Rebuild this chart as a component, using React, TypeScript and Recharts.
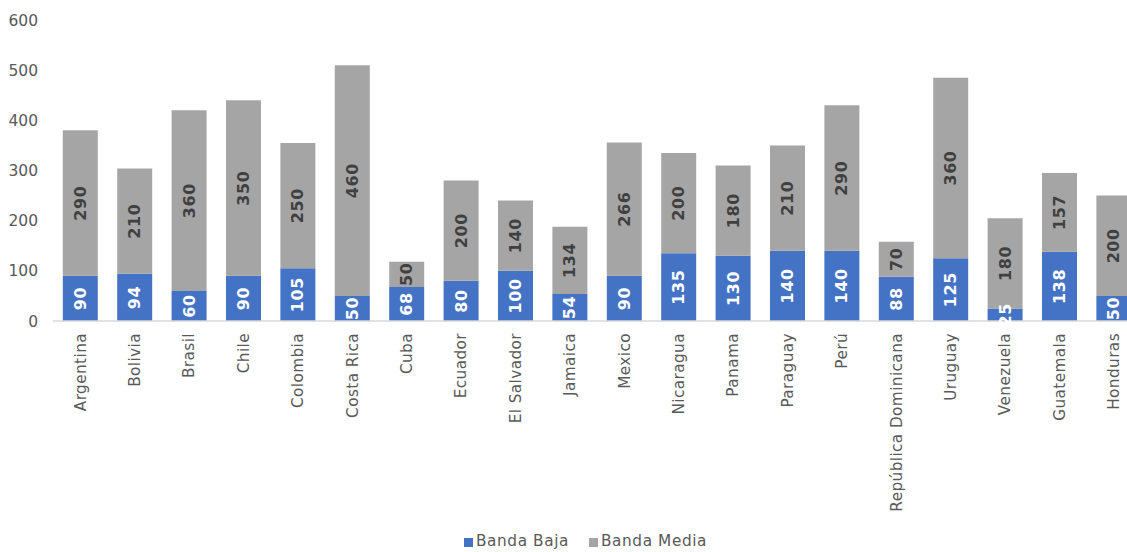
import React from "react";
import { BarChart, Bar, XAxis, YAxis, Legend, LabelList } from "recharts";

const countries = [
  "Argentina", "Bolivia", "Brasil", "Chile", "Colombia", "Costa Rica", "Cuba",
  "Ecuador", "El Salvador", "Jamaica", "Mexico", "Nicaragua", "Panama",
  "Paraguay", "Perú", "República Dominicana", "Uruguay", "Venezuela",
  "Guatemala", "Honduras",
];
const bandaBaja = [90, 94, 60, 90, 105, 50, 68, 80, 100, 54, 90, 135, 130, 140, 140, 88, 125, 25, 138, 50];
const bandaMedia = [290, 210, 360, 350, 250, 460, 50, 200, 140, 134, 266, 200, 180, 210, 290, 70, 360, 180, 157, 200];
const yTicks = [0, 100, 200, 300, 400, 500, 600];

const data = countries.map((c, i) => ({ name: c, baja: bandaBaja[i], media: bandaMedia[i] }));

const FONT = "'DejaVu Sans', Verdana, sans-serif";
const BLUE = "#4472C4";
const GRAY = "#A5A5A5";

const labelText = (cx: number, cy: number, value: any, color: string) => (
  <text
    x={cx}
    y={cy}
    transform={`rotate(-90, ${cx}, ${cy})`}
    textAnchor="middle"
    dominantBaseline="central"
    fill={color}
    fontFamily={FONT}
    fontSize={16}
    fontWeight="bold"
    letterSpacing={0.6}
  >
    {value}
  </text>
);

// label for the gray (upper) segment
const mediaLabel = (props: any) => {
  const { x, y, width, height, value } = props;
  const cx = Number(x) + Number(width) / 2;
  const cy = Number(y) + Number(height) / 2;
  return labelText(cx, cy, value, "#404040");
};

// label for the blue (lower) segment, drawn in the upper bar's layer so it stays on top
const bajaLabel = (props: any) => {
  const { x, y, width, height, value, index } = props;
  const media = bandaMedia[index];
  const perUnit = Number(height) / media;
  const bajaH = Number(value) * perUnit;
  const cx = Number(x) + Number(width) / 2;
  const cy = Number(y) + Number(height) + bajaH / 2;
  return labelText(cx, cy, value, "#FFFFFF");
};

const XTick = (props: any) => {
  const { x, y, payload } = props;
  return (
    <g transform={`translate(${x},${y})`}>
      <text
        transform="rotate(-90)"
        x={-4}
        y={0}
        dy="0.35em"
        textAnchor="end"
        fill="#595959"
        fontFamily={FONT}
        fontSize={15.3}
        letterSpacing={0.4}
      >
        {payload.value}
      </text>
    </g>
  );
};

const LegendContent = () => (
  <div
    style={{
      display: "flex",
      justifyContent: "center",
      alignItems: "center",
      fontFamily: FONT,
      fontSize: 15.3,
      letterSpacing: 0.6,
      color: "#595959",
      height: 20,
      marginTop: 1,
      paddingLeft: 26,
    }}
  >
    <span style={{ display: "inline-block", width: 9, height: 9, background: BLUE, marginRight: 3, marginTop: 3 }} />
    <span style={{ marginRight: 20 }}>Banda Baja</span>
    <span style={{ display: "inline-block", width: 9, height: 9, background: GRAY, marginRight: 3, marginTop: 3 }} />
    <span>Banda Media</span>
  </div>
);

export default function App() {
  return (
    <div style={{ position: "absolute", left: 0, top: 0, width: 1127, height: 552, overflow: "hidden", background: "#fff" }}>
      <BarChart
        width={1145}
        height={552}
        data={data}
        margin={{ top: 20, right: 4, bottom: 0, left: 8 }}
        barCategoryGap="18%"
      >
        <XAxis
          dataKey="name"
          interval={0}
          height={209}
          tick={<XTick />}
          tickLine={false}
          axisLine={{ stroke: "#D9D9D9", strokeWidth: 1.5 }}
        />
        <YAxis
          width={45}
          domain={[0, 600]}
          ticks={yTicks}
          axisLine={false}
          tickLine={false}
          tickMargin={9}
          tick={{ fill: "#595959", fontFamily: FONT, fontSize: 15.5 }}
        />
        <Legend
          verticalAlign="bottom"
          content={<LegendContent />}
          wrapperStyle={{ left: 0, width: 1145, height: 22 }}
        />
        <Bar dataKey="baja" name="Banda Baja" stackId="a" fill={BLUE} isAnimationActive={false} />
        <Bar dataKey="media" name="Banda Media" stackId="a" fill={GRAY} isAnimationActive={false}>
          <LabelList dataKey="media" content={mediaLabel} />
          <LabelList dataKey="baja" content={bajaLabel} />
        </Bar>
      </BarChart>
    </div>
  );
}
